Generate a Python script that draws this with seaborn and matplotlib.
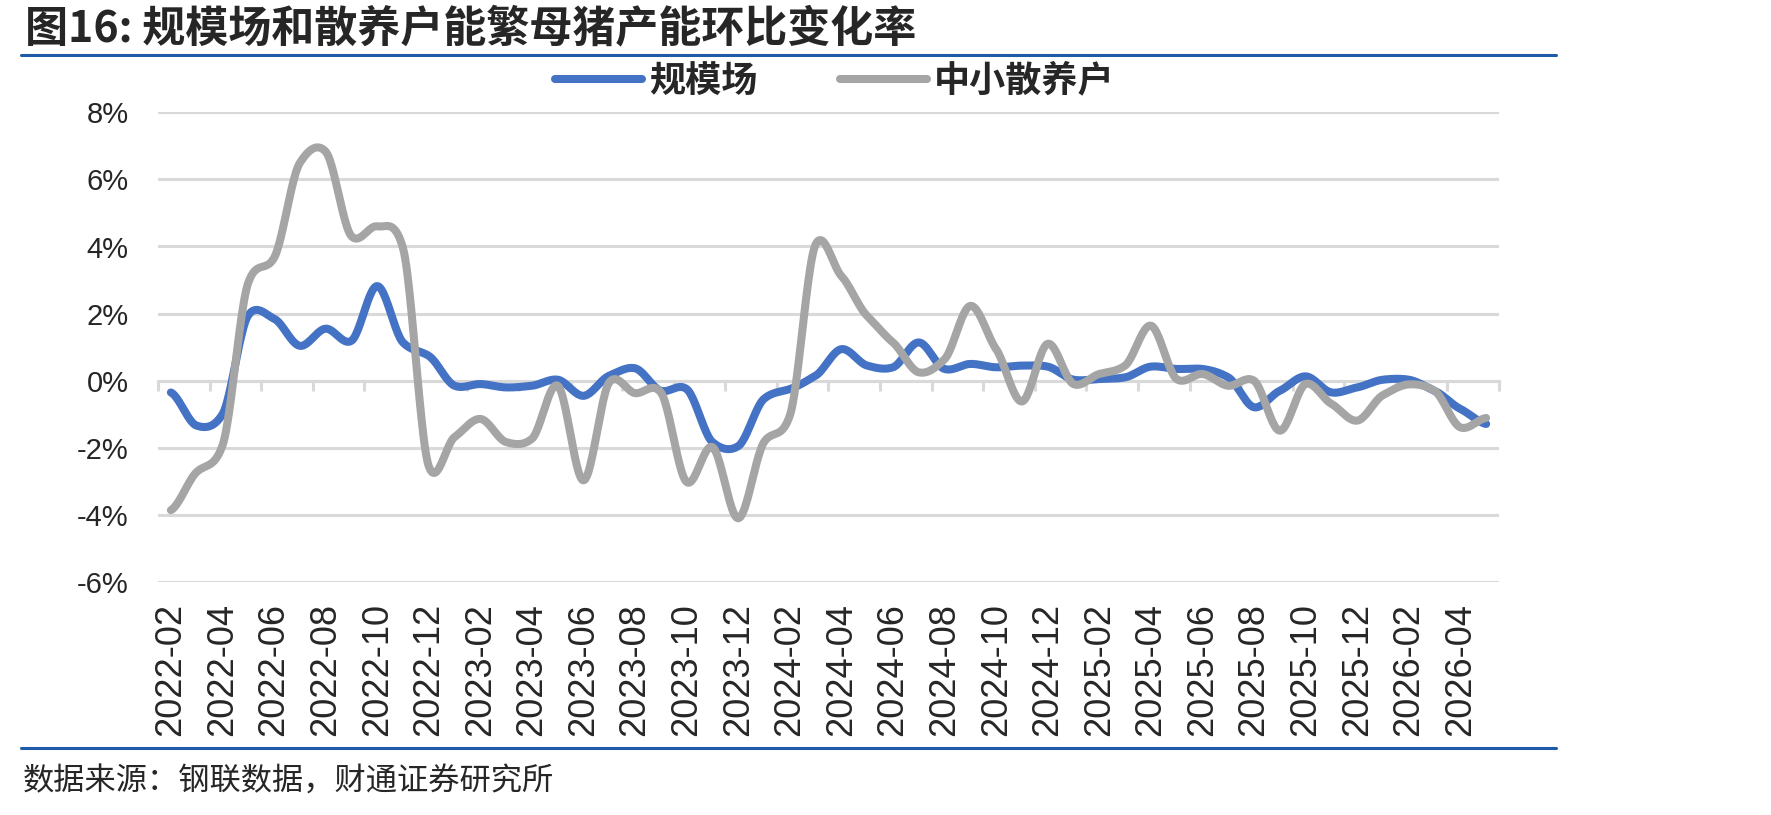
import numpy as np
import pandas as pd
import matplotlib
matplotlib.use("Agg")
import matplotlib.pyplot as plt
from matplotlib.lines import Line2D
import seaborn as sns

# ---------------- data ----------------
months = pd.period_range("2022-02", "2026-05", freq="M").strftime("%Y-%m").tolist()

scale_farms = [  # 规模场 (%)
    -0.35, -1.34, -1.00, 1.95, 1.85, 1.04, 1.55, 1.19, 2.82, 1.14,
    0.74, -0.15, -0.10, -0.20, -0.15, 0.03, -0.45, 0.15, 0.37, -0.30,
    -0.25, -1.83, -1.95, -0.54, -0.25, 0.15, 0.94, 0.45, 0.40, 1.14,
    0.35, 0.50, 0.40, 0.45, 0.42, 0.03, 0.05, 0.10, 0.42, 0.35,
    0.35, 0.10, -0.79, -0.30, 0.13, -0.35, -0.20, 0.03, 0.03, -0.30,
    -0.84, -1.29,
]
small_farms = [  # 中小散养户 (%)
    -3.86, -2.72, -1.93, 2.92, 3.66, 6.49, 6.83, 4.31, 4.60, 3.95,
    -2.55, -1.68, -1.14, -1.83, -1.73, -0.15, -2.97, -0.05, -0.37, -0.35,
    -3.02, -1.98, -4.10, -1.83, -1.04, 4.06, 3.12, 1.93, 1.14, 0.25,
    0.64, 2.23, 0.94, -0.62, 1.10, -0.10, 0.20, 0.45, 1.64, 0.05,
    0.20, -0.15, 0.00, -1.49, -0.10, -0.69, -1.19, -0.43, -0.11, -0.30,
    -1.39, -1.11,
]
series_names = ["规模场", "中小散养户"]
series_colors = ["#4472C4", "#A5A5A5"]
y_ticks = [-6, -4, -2, 0, 2, 4, 6, 8]
title = "图16: 规模场和散养户能繁母猪产能环比变化率"
source = "数据来源：钢联数据，财通证券研究所"


def smooth(values, n=24, k=0.38):
    """Smoothed drawing path (cardinal spline through every data point)."""
    v = np.asarray(values, dtype=float)
    p = np.concatenate([[v[0]], v, [v[-1]]])
    m = k * (p[2:] - p[:-2])
    t = np.linspace(0, 1, n, endpoint=False)
    h00 = 2 * t ** 3 - 3 * t ** 2 + 1
    h10 = t ** 3 - 2 * t ** 2 + t
    h01 = -2 * t ** 3 + 3 * t ** 2
    h11 = t ** 3 - t ** 2
    xs, ys = [], []
    for i in range(len(v) - 1):
        ys.append(h00 * v[i] + h10 * m[i] + h01 * v[i + 1] + h11 * m[i + 1])
        xs.append(i + t)
    xs.append([len(v) - 1])
    ys.append([v[-1]])
    return np.concatenate(xs), np.concatenate(ys)


# ---------------- figure ----------------
sns.set_style("white")
plt.rcParams["font.family"] = ["Noto Sans CJK SC", "DejaVu Sans"]

W, H = 1771, 815
fig = plt.figure(figsize=(W / 100, H / 100), dpi=100)
ax = fig.add_axes([158 / W, 1 - 582 / H, (1499 - 158) / W, (582 - 112.3) / H])

grid_c = "#D9D9D9"
lw = 5.8
for vals, name, col in zip([scale_farms, small_farms], series_names, series_colors):
    sx, sy = smooth(vals)
    df = pd.DataFrame({"x": sx, "y": sy})
    sns.lineplot(data=df, x="x", y="y", color=col, linewidth=lw, ax=ax,
                 legend=False, sort=False, solid_capstyle="round", zorder=3)

ax.set_xlim(-0.5, len(months) - 0.5)
ax.set_ylim(min(y_ticks), max(y_ticks))
ax.set_xlabel("")
ax.set_ylabel("")
for s in ax.spines.values():
    s.set_visible(False)

ax.set_yticks(y_ticks)
ax.set_yticklabels([f"{v}%" for v in y_ticks],
                   family=["Liberation Sans Narrow", "Liberation Sans"], fontsize=21)
ax.yaxis.grid(True, color=grid_c, linewidth=2.2)
ax.xaxis.grid(False)
ax.set_axisbelow(True)
ax.tick_params(axis="y", length=0, pad=21)

pos = list(range(0, len(months), 2))
ax.set_xticks(pos)
ax.set_xticklabels([months[i] for i in pos], rotation=90,
                   family=["Liberation Sans", "DejaVu Sans"], fontsize=26)
ax.tick_params(axis="x", length=0, pad=15)

# zero line tick marks at category boundaries
ymin, ymax = ax.get_ylim()
sec = ax.secondary_xaxis((0 - ymin) / (ymax - ymin))
sec.set_xticks(np.arange(-0.5, len(months), 2))
sec.tick_params(direction="out", length=7.5, width=2.2, color=grid_c, labelbottom=False,
                labeltop=False)
for s in sec.spines.values():
    s.set_color(grid_c)
    s.set_linewidth(2.2)

# legend
handles = [Line2D([0], [0], color=c, linewidth=lw, solid_capstyle="round") for c in series_colors]
fig.legend(handles, series_names, loc="center", bbox_to_anchor=(835 / W, 1 - 81 / H),
           ncol=2, frameon=False, handlelength=2.4, handletextpad=0.2, columnspacing=2.3,
           prop={"family": ["Noto Sans CJK SC", "DejaVu Sans"], "size": 26, "weight": "bold"})

# title, rules, source
fig.text(25 / W, 1 - 28 / H, title, fontsize=31, fontweight="bold", va="center", ha="left")
rule_c = "#1E5AA8"
fig.add_artist(Line2D([21 / W, 1556 / W], [1 - 55 / H, 1 - 55 / H], color=rule_c,
                      linewidth=2.2, transform=fig.transFigure))
fig.add_artist(Line2D([21 / W, 1556 / W], [1 - 748 / H, 1 - 748 / H], color=rule_c,
                      linewidth=2.2, transform=fig.transFigure))
fig.text(23 / W, 1 - 782 / H, source, fontsize=22.5, va="center", ha="left")

fig.savefig("out.png", dpi=100)
